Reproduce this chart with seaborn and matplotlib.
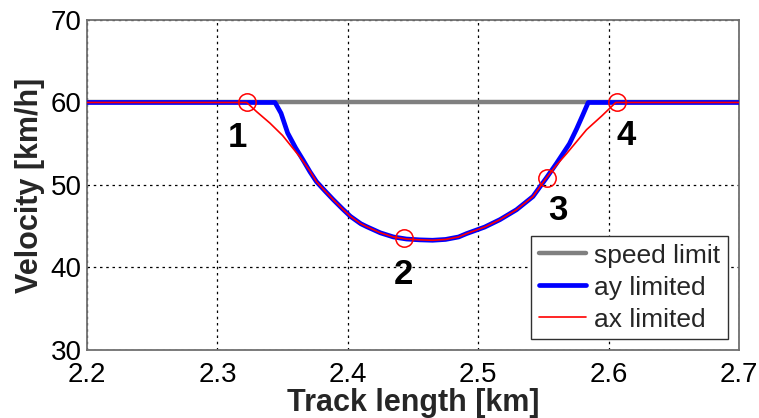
import matplotlib
matplotlib.use("Agg")
import matplotlib.pyplot as plt
import seaborn as sns
import pandas as pd
from matplotlib.lines import Line2D

# ---- data ----
limit_x = [2.2, 2.7]
limit_v = [60, 60]

ay_x = [2.2, 2.3442, 2.3488, 2.3539, 2.3600, 2.3658, 2.3710, 2.3760, 2.3830, 2.3890,
        2.3960, 2.4020, 2.4100, 2.4145, 2.4250, 2.4350, 2.4450, 2.4550, 2.4650, 2.4750,
        2.4850, 2.4910, 2.5050, 2.5167, 2.5294, 2.5420, 2.5525, 2.5600, 2.5650, 2.5700,
        2.5755, 2.5800, 2.5844, 2.7]
ay_v = [60, 60, 58.7, 56.3, 54.5, 53.0, 51.6, 50.4, 49.2, 48.2,
        47.1, 46.2, 45.3, 44.95, 44.2, 43.7, 43.45, 43.35, 43.3, 43.4,
        43.7, 44.1, 44.9, 45.8, 47.0, 48.6, 50.9, 52.6, 53.8, 55.0,
        56.8, 58.4, 60, 60]

ax_x = [2.2, 2.3225, 2.3300, 2.3403, 2.3500, 2.3633, 2.3710, 2.3760, 2.3830, 2.3890,
        2.3960, 2.4020, 2.4100, 2.4145, 2.4250, 2.4350, 2.4450, 2.4550, 2.4650, 2.4750,
        2.4850, 2.4910, 2.5050, 2.5167, 2.5294, 2.5420, 2.5525, 2.5600, 2.5678, 2.5831,
        2.5950, 2.6055, 2.7]
ax_v = [60, 60, 58.9, 57.5, 56.0, 53.4, 51.7, 50.4, 49.2, 48.2,
        47.1, 46.2, 45.3, 44.95, 44.2, 43.7, 43.45, 43.35, 43.3, 43.4,
        43.7, 44.1, 44.9, 45.8, 47.0, 48.6, 50.9, 52.4, 53.8, 56.7,
        58.4, 60, 60]

point_x = [2.3225, 2.443, 2.5525, 2.6062]
point_v = [60, 43.6, 50.9, 60.1]
point_labels = ["1", "2", "3", "4"]

legend_labels = ["speed limit", "ay limited", "ax limited"]
x_ticks = [2.2, 2.3, 2.4, 2.5, 2.6, 2.7]
y_ticks = [30, 40, 50, 60, 70]
x_title = "Track length [km]"
y_title = "Velocity [km/h]"

# ---- style ----
sns.set_theme(style="white")
plt.rcParams['font.family'] = ['Liberation Sans', 'DejaVu Sans']

fig = plt.figure(figsize=(7.59, 4.18), dpi=100)
ax = fig.add_axes([0.1146, 0.1627, 0.859, 0.7895])

df_lim = pd.DataFrame({"x": limit_x, "v": limit_v})
df_ay = pd.DataFrame({"x": ay_x, "v": ay_v})
df_ax = pd.DataFrame({"x": ax_x, "v": ax_v})

sns.lineplot(data=df_lim, x="x", y="v", ax=ax, color="#808080", lw=3.2,
             estimator=None, sort=False, zorder=3)
sns.lineplot(data=df_ay, x="x", y="v", ax=ax, color="#0000ff", lw=3.4,
             estimator=None, sort=False, zorder=4)
sns.lineplot(data=df_ax, x="x", y="v", ax=ax, color="#ff0000", lw=1.2,
             estimator=None, sort=False, zorder=5)
ax.plot(point_x, point_v, linestyle="none", marker="o", ms=12.5, mfc="none",
        mec="#ff0000", mew=1.1, zorder=6)

offsets = [(-6.5, -25), (0, -26.5), (8, -24), (7, -24.5)]
for px, pv, lab, off in zip(point_x, point_v, point_labels, offsets):
    ax.annotate(lab, (px, pv), xytext=off, textcoords="offset points",
                ha="center", va="center", fontsize=25, fontweight="bold",
                color="black", zorder=7)

ax.set_xlim(2.2, 2.7)
ax.set_ylim(30, 70)
ax.set_xticks(x_ticks)
ax.set_xticklabels([f"{t:.1f}" for t in x_ticks])
ax.set_yticks(y_ticks)
ax.set_yticklabels([str(t) for t in y_ticks])
ax.tick_params(axis="both", labelsize=20, colors="black", length=0)
ax.tick_params(axis="x", pad=9)
ax.tick_params(axis="y", pad=4)

ax.grid(True, color="black", linestyle=(0, (2, 3)), lw=0.9)
for s in ax.spines.values():
    s.set_color("#707070")
    s.set_linewidth(1.3)
    s.set_visible(True)

ax.set_xlabel(x_title, fontsize=22, fontweight="bold", labelpad=0)
ax.set_ylabel(y_title, fontsize=22, fontweight="bold", labelpad=4)

handles = [Line2D([], [], color="#808080", lw=3.2),
           Line2D([], [], color="#0000ff", lw=3.4),
           Line2D([], [], color="#ff0000", lw=1.2)]
leg = ax.legend(handles, legend_labels, loc="lower right", fontsize=19,
                handlelength=1.8, handletextpad=0.3, labelspacing=0.3,
                borderpad=0.3, borderaxespad=0.4, fancybox=False,
                framealpha=1, edgecolor="#303030")
leg.get_frame().set_linewidth(1.0)
leg.set_zorder(10)

fig.savefig("out.png", dpi=100)
